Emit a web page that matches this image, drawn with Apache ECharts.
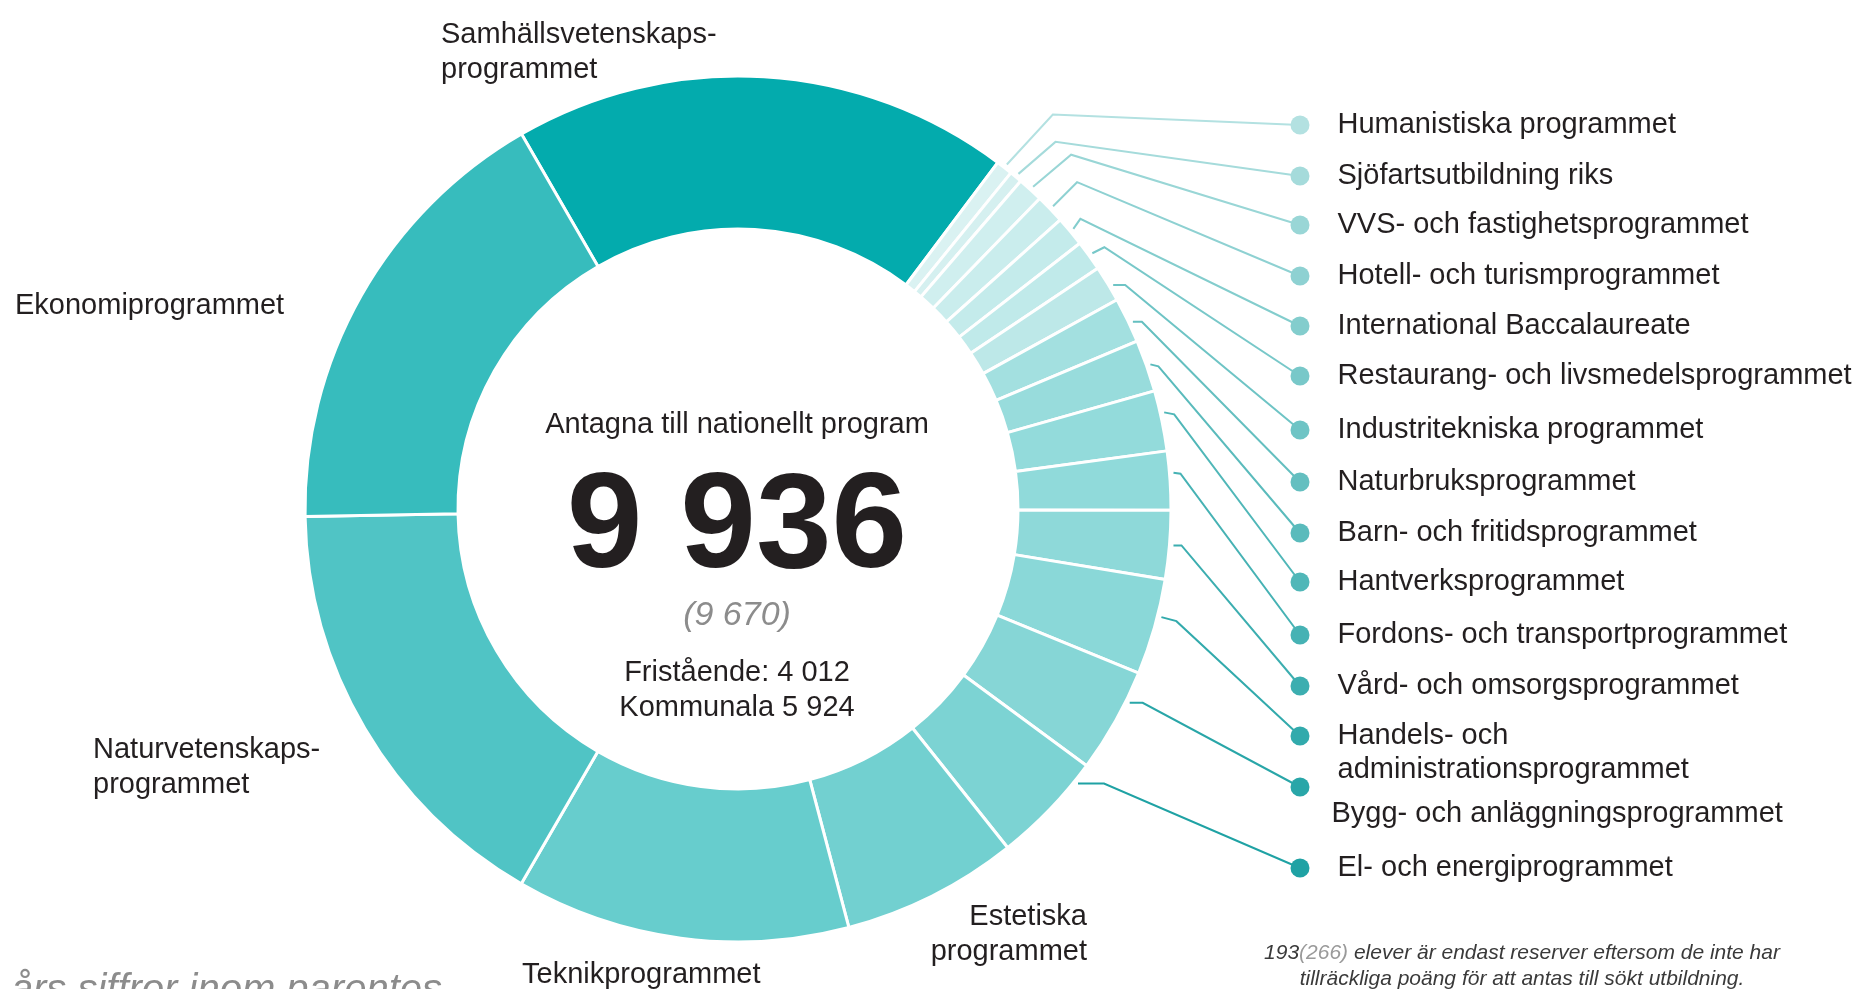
<!DOCTYPE html>
<html>
<head>
<meta charset="utf-8">
<script src="https://cdn.jsdelivr.net/npm/echarts@6/dist/echarts.min.js"></script>
<style>
  html, body { margin: 0; padding: 0; background: #fff; }
  #chart { width: 1861px; height: 989px; }
</style>
</head>
<body>
<div id="chart"></div>
<script>
// program names, clockwise from the Samhäll segment
const programs = [
  'Samhällsvetenskaps-\nprogrammet',
  'Humanistiska programmet',
  'Sjöfartsutbildning riks',
  'VVS- och fastighetsprogrammet',
  'Hotell- och turismprogrammet',
  'International Baccalaureate',
  'Restaurang- och livsmedelsprogrammet',
  'Industritekniska programmet',
  'Naturbruksprogrammet',
  'Barn- och fritidsprogrammet',
  'Hantverksprogrammet',
  'Fordons- och transportprogrammet',
  'Vård- och omsorgsprogrammet',
  'Handels- och\nadministrationsprogrammet',
  'Bygg- och anläggningsprogrammet',
  'El- och energiprogrammet',
  'Estetiska\nprogrammet',
  'Teknikprogrammet',
  'Naturvetenskaps-\nprogrammet',
  'Ekonomiprogrammet'
];
const admitted = [1846, 61, 47, 94, 108, 112, 112, 135, 168, 193, 224, 218, 254, 356, 389, 417, 654, 1239, 1628, 1684];

const totalAdmitted = 9936;
const totalLastYear = 9670;
const independentSchools = 4012;
const municipalSchools = 5924;
const reserves = 193;
const reservesLastYear = 266;

const segmentColors = [
  '#03abad', '#daf2f2', '#d5f0f0', '#d0efef', '#caeded', '#c4ebeb', '#c0eaea', '#bde8e8',
  '#a3e0e0', '#98dcdc', '#93dbdb', '#90dada', '#8ed9d9', '#8ad8d8', '#86d6d6', '#7cd3d3',
  '#72d0d0', '#67cdcd', '#50c4c5', '#37bcbd'
];

const fmt = n => String(n).replace(/\B(?=(\d{3})+(?!\d))/g, ' ');
const FONT = "'Liberation Sans', Arial, Helvetica, sans-serif";
const INK = '#231f20';
const FS = 29;

// geometry
const cx = 738, cy = 509, rIn = 280, rOut = 433;
const startDeg = -30; // clockwise from 12 o'clock
const sum = admitted.reduce((a, b) => a + b, 0);
const midDeg = [];
let acc = 0;
admitted.forEach(v => { midDeg.push(startDeg + (acc + v / 2) / sum * 360); acc += v; });

// label placement
const bigSlots = {
  0: { x: 441, y: 52, align: 'left' },
  16: { x: 1087, y: 934, align: 'right' },
  17: { x: 522, y: 975, align: 'left' },
  18: { x: 93, y: 767, align: 'left' },
  19: { x: 15, y: 306, align: 'left' }
};
const dotX = 1300, dotSize = 19;
const dotSlots = [125, 176, 225, 276, 326, 376, 430, 482, 533, 582, 635, 686, 736, 787, 868];
const kneeOffsets = [[46, -50], [37, -32], [38, -32], [24, -24], [7, -10], [12, -6], [12, 0], [9, 0],
  [8, 2], [10, 2], [7, 1], [8, 0], [15, 4], [13, 0], [26, 0]];
// where the leader leaves the ring, in degrees from the segment middle
const anchorShift = [0, 0, 0, 0, 0, 0, 0.5, 0.5, 0, -1, -1, 0, -1.5, -3, -5];
const dotAboveIndex = 14; // Bygg: dot sits above its text

// leader line colours, light to dark
function mix(a, b, t) {
  const pa = a.match(/\w\w/g).map(h => parseInt(h, 16));
  const pb = b.match(/\w\w/g).map(h => parseInt(h, 16));
  return '#' + pa.map((v, k) => Math.round(v + (pb[k] - v) * t).toString(16).padStart(2, '0')).join('');
}
const lineColors = dotSlots.map((_, s) => mix('b3e1e1', '1fa2a4', Math.pow(s / 14, 0.9)));

const rich = {
  big: { fontSize: FS, fontFamily: FONT, color: INK, lineHeight: 35 },
  t: { fontSize: FS, fontFamily: FONT, color: INK, lineHeight: 34, padding: [0, 0, 0, 28] },
  t2: { fontSize: FS, fontFamily: FONT, color: INK, lineHeight: 34, padding: [0, 0, 0, 28 + dotSize] },
  tb: { fontSize: FS, fontFamily: FONT, color: INK, lineHeight: 34, padding: [0, 0, 0, 41] }
};
lineColors.forEach((c, s) => {
  rich['d' + s] = { width: dotSize, height: dotSize, borderRadius: dotSize / 2, backgroundColor: c };
});

const chart = echarts.init(document.getElementById('chart'));

const option = {
  animation: false,
  backgroundColor: '#fff',
  series: [
    {
      type: 'pie',
      center: [cx, cy],
      radius: [rIn, rOut],
      startAngle: 90 - startDeg,
      clockwise: true,
      avoidLabelOverlap: false,
      silent: true,
      itemStyle: { borderColor: '#fff', borderWidth: 3 },
      label: {
        show: true,
        position: 'outside',
        rich: rich,
        formatter: function (p) {
          const i = p.dataIndex;
          const name = programs[i];
          if (bigSlots[i]) return name.split('\n').map(l => '{big|' + l + '}').join('\n');
          const s = i - 1;
          if (i === dotAboveIndex) return '{d' + s + '|}\n{tb|' + name + '}';
          const lines = name.split('\n');
          if (lines.length > 1) return '{d' + s + '|}{t|' + lines[0] + '}\n{t2|' + lines[1] + '}';
          return '{d' + s + '|}{t|' + name + '}';
        }
      },
      labelLine: { show: true, smooth: false, lineStyle: { width: 2 } },
      labelLayout: function (params) {
        const i = params.dataIndex;
        if (bigSlots[i]) {
          const b = bigSlots[i];
          return { x: b.x, y: b.y, align: b.align, verticalAlign: 'middle' };
        }
        const s = i - 1;
        const a = (midDeg[i] + anchorShift[s]) * Math.PI / 180;
        const sx = cx + (rOut + 4) * Math.sin(a);
        const sy = cy - (rOut + 4) * Math.cos(a);
        const k = kneeOffsets[s];
        const dy = dotSlots[s];
        const twoLine = programs[i].indexOf('\n') >= 0 || i === dotAboveIndex;
        return {
          x: dotX - dotSize / 2,
          y: dy + (twoLine ? 17 : 0),
          align: 'left',
          verticalAlign: 'middle',
          labelLinePoints: [[sx, sy], [sx + k[0], sy + k[1]], [dotX, dy]]
        };
      },
      data: programs.map((name, i) => ({
        name: name,
        value: admitted[i],
        itemStyle: { color: segmentColors[i] },
        labelLine: bigSlots[i]
          ? { show: false }
          : { show: true, lineStyle: { color: lineColors[i - 1], width: 2 } }
      }))
    }
  ],
  graphic: [
    {
      type: 'text', x: 737, y: 425, silent: true,
      style: { text: 'Antagna till nationellt program', font: '29px ' + FONT, fill: INK,
        align: 'center', verticalAlign: 'middle', textAlign: 'center', textVerticalAlign: 'middle' }
    },
    {
      type: 'text', x: 737, y: 529, silent: true,
      style: { text: fmt(totalAdmitted), font: 'bold 136px ' + FONT, fill: INK,
        align: 'center', verticalAlign: 'middle', textAlign: 'center', textVerticalAlign: 'middle' }
    },
    {
      type: 'text', x: 737, y: 616, silent: true,
      style: { text: '(' + fmt(totalLastYear) + ')', font: 'italic 34px ' + FONT, fill: '#8c8c8c',
        align: 'center', verticalAlign: 'middle', textAlign: 'center', textVerticalAlign: 'middle' }
    },
    {
      type: 'text', x: 737, y: 673, silent: true,
      style: { text: 'Fristående: ' + fmt(independentSchools), font: '29px ' + FONT, fill: INK,
        align: 'center', verticalAlign: 'middle', textAlign: 'center', textVerticalAlign: 'middle' }
    },
    {
      type: 'text', x: 737, y: 708, silent: true,
      style: { text: 'Kommunala ' + fmt(municipalSchools), font: '29px ' + FONT, fill: INK,
        align: 'center', verticalAlign: 'middle', textAlign: 'center', textVerticalAlign: 'middle' }
    },
    {
      type: 'text', x: 1522, y: 966, silent: true,
      style: {
        text: '{a|' + reserves + '}{b|(' + reservesLastYear + ')}{a| elever är endast reserver eftersom de inte har}\n' +
              '{a|tillräckliga poäng för att antas till sökt utbildning.}',
        rich: {
          a: { font: 'italic 21px ' + FONT, fill: '#3a3a3a', color: '#3a3a3a', lineHeight: 26 },
          b: { font: 'italic 21px ' + FONT, fill: '#9a9a9a', color: '#9a9a9a', lineHeight: 26 }
        },
        align: 'center', verticalAlign: 'middle', textAlign: 'center', textVerticalAlign: 'middle'
      }
    },
    {
      type: 'text', x: 442, y: 991, silent: true,
      style: { text: 'Förra års siffror inom parentes', font: 'italic 40px ' + FONT, fill: '#8c8c8c',
        align: 'right', verticalAlign: 'middle', textAlign: 'right', textVerticalAlign: 'middle' }
    }
  ]
};

chart.setOption(option);
window.addEventListener('resize', () => chart.resize());
</script>
</body>
</html>
